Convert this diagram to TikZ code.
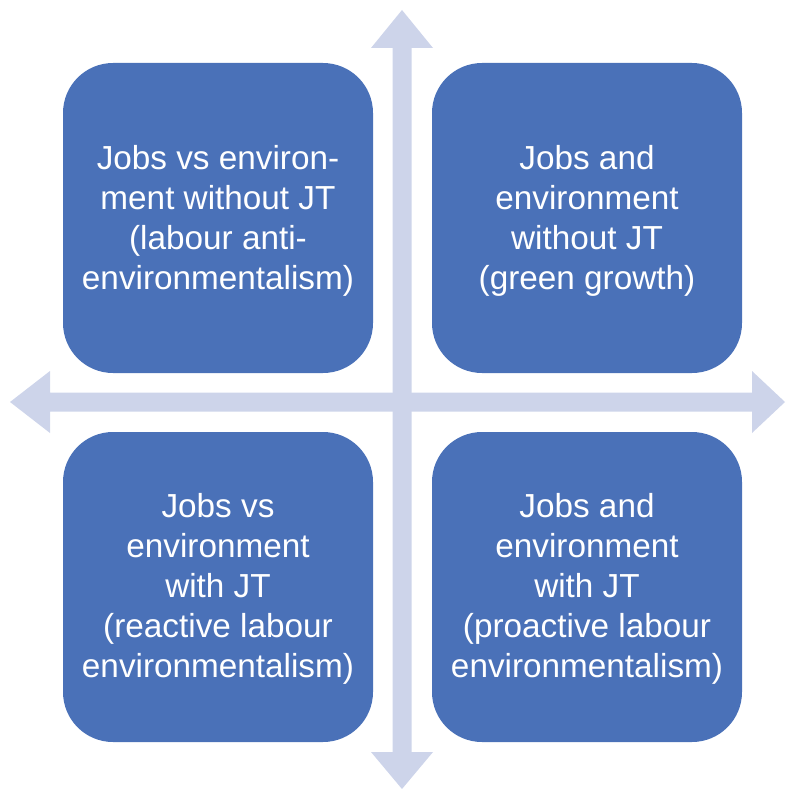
\documentclass[tikz,border=0pt]{standalone}
\usepackage{fontspec}
\setmainfont{Liberation Sans}
\definecolor{boxblue}{HTML}{4A71B8}
\definecolor{axisblue}{HTML}{CDD4EA}
\begin{document}
\begin{tikzpicture}[x=1pt,y=-1pt,
  quad/.style={fill=boxblue, draw=none, rounded corners=50pt,
    minimum width=310pt, minimum height=310pt, inner sep=0pt,
    text=white, align=center,
    font=\fontsize{33.3pt}{40pt}\selectfont},
  axis/.style={fill=axisblue, draw=none}]
\useasboundingbox (0,0) rectangle (785,789);
% vertical axis with two heads
\fill[axis] (402,10) -- (433,48) -- (411.5,48) -- (411.5,752) -- (433,752)
  -- (402,789) -- (371,752) -- (392.5,752) -- (392.5,48) -- (371,48) -- cycle;
% horizontal axis with two heads
\fill[axis] (10,402) -- (50,371) -- (50,392.5) -- (752,392.5) -- (752,371)
  -- (785,402) -- (752,433) -- (752,411.5) -- (50,411.5) -- (50,433) -- cycle;
% four quadrants (boxes first, text set slightly below the box centre)
\node[quad] (tl) at (218,218) {};
\node[quad] (tr) at (587,218) {};
\node[quad] (bl) at (218,587) {};
\node[quad] (br) at (587,587) {};
\node[quad, fill=none, minimum size=0pt] (tltext) at ([yshift=-3pt]tl.center) {Jobs vs environ-\\ment without JT\\(labour anti-\\environmentalism)};
\node[quad, fill=none, minimum size=0pt] (trtext) at ([yshift=-3pt]tr.center) {Jobs and\\environment\\without JT\\(green growth)};
\node[quad, fill=none, minimum size=0pt] (bltext) at ([yshift=-2pt]bl.center) {Jobs vs\\environment\\with JT\\(reactive labour\\environmentalism)};
\node[quad, fill=none, minimum size=0pt] (brtext) at ([yshift=-2pt]br.center) {Jobs and\\environment\\with JT\\(proactive labour\\environmentalism)};
\end{tikzpicture}
\end{document}
